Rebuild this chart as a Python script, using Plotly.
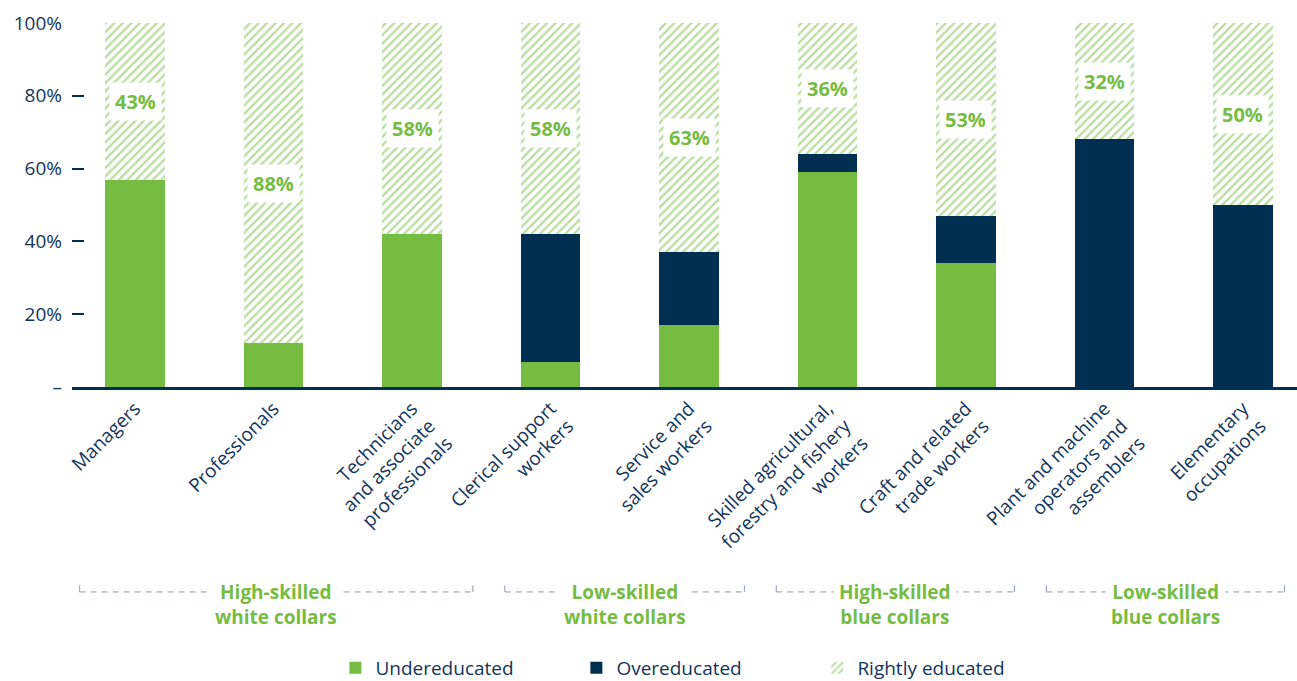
import plotly.graph_objects as go

COLORS = {
    "green": "#76bc43",
    "navy": "#002f52",
    "text": "#12355b",
    "dash": "#8c9bb0",
    "white": "#ffffff",
}
FONT = "Open Sans, sans-serif"

categories = [
    "Managers",
    "Professionals",
    "Technicians<br>and associate<br>professionals",
    "Clerical support<br>workers",
    "Service and<br>sales workers",
    "Skilled agricultural,<br>forestry and fishery<br>workers",
    "Craft and related<br>trade workers",
    "Plant and machine<br>operators and<br>assemblers",
    "Elementary<br>occupations",
]
undereducated = [57, 12, 42, 7, 17, 59, 34, 0, 0]
overeducated = [0, 0, 0, 35, 20, 5, 13, 68, 50]
rightly = [43, 88, 58, 58, 63, 36, 53, 32, 50]

group_labels = ["High-skilled<br>white collars", "Low-skilled<br>white collars",
                "High-skilled<br>blue collars", "Low-skilled<br>blue collars"]
group_first = [0, 3, 5, 7]
group_last = [2, 4, 6, 8]

y_ticks = [0, 20, 40, 60, 80, 100]
y_ticktext = ["–", "20%", "40%", "60%", "80%", "100%"]

x = list(range(len(categories)))
X_RANGE = [-0.455, 8.39]
# how far each bracket reaches past its first / last bar (in category units)
BRACKET_PAD_L = [0.40, 0.33, 0.37, 0.42]
BRACKET_PAD_R = [0.44, 0.40, 0.35, 0.30]

fig = go.Figure()
fig.add_trace(go.Bar(
    x=x, y=undereducated, name="Undereducated",
    marker=dict(color=COLORS["green"], line=dict(width=0)),
    width=0.43,
))
fig.add_trace(go.Bar(
    x=x, y=overeducated, name="Overeducated",
    marker=dict(color=COLORS["navy"], line=dict(width=0)),
    width=0.43,
))
fig.add_trace(go.Bar(
    x=x, y=rightly, name="Rightly educated",
    marker=dict(
        color=COLORS["white"], line=dict(width=0),
        pattern=dict(shape="/", fgcolor=COLORS["green"], bgcolor=COLORS["white"],
                     size=6, solidity=0.4),
    ),
    width=0.43,
))

# percentage labels in the hatched part
for i, r in enumerate(rightly):
    base = undereducated[i] + overeducated[i]
    fig.add_annotation(
        x=i, y=base + r / 2, text=f"<b>{r}%</b>", showarrow=False,
        font=dict(family=FONT, size=20, color=COLORS["green"]),
        bgcolor=COLORS["white"], borderpad=5,
    )


def px_x(v):
    return (v - X_RANGE[0]) / (X_RANGE[1] - X_RANGE[0])


# group brackets under the category labels
line_y = -0.563
tick_y = -0.545
for k, label in enumerate(group_labels):
    x0 = px_x(group_first[k] - BRACKET_PAD_L[k])
    x1 = px_x(group_last[k] + BRACKET_PAD_R[k])
    fig.add_shape(type="line", xref="paper", yref="paper", x0=x0, x1=x1, y0=line_y, y1=line_y,
                  line=dict(color=COLORS["dash"], width=1, dash="6px,5px"))
    for xe in (x0, x1):
        fig.add_shape(type="line", xref="paper", yref="paper", x0=xe, x1=xe, y0=line_y, y1=tick_y,
                      line=dict(color=COLORS["dash"], width=1))
    fig.add_annotation(
        xref="paper", yref="paper", x=(x0 + x1) / 2, y=-0.597, text=f"<b>{label}</b>",
        showarrow=False, xanchor="center", yanchor="middle",
        font=dict(family=FONT, size=19, color=COLORS["green"]),
        bgcolor=COLORS["white"], borderpad=5,
    )

fig.update_layout(
    width=1297,
    height=681,
    barmode="stack",
    paper_bgcolor="white",
    plot_bgcolor="white",
    font=dict(family=FONT, color=COLORS["text"], size=19),
    margin=dict(l=72, r=0, t=23, b=294, autoexpand=False),
    showlegend=True,
    legend=dict(
        orientation="h", x=0.215, xanchor="left", y=-0.772, yanchor="middle",
        font=dict(size=19, color=COLORS["text"]), traceorder="normal",
        entrywidth=196, entrywidthmode="pixels",
    ),
    xaxis=dict(
        range=X_RANGE, tickvals=x, ticktext=categories, tickangle=-45,
        showline=True, linecolor=COLORS["navy"], linewidth=3,
        showgrid=False, zeroline=False, ticks="", automargin=False,
        tickfont=dict(family=FONT, size=19, color=COLORS["text"]),
    ),
    yaxis=dict(
        range=[0, 100], tickvals=y_ticks, ticktext=y_ticktext,
        showgrid=False, zeroline=False, showline=False, automargin=False,
        ticks="inside", ticklen=12, tickwidth=1.5, tickcolor=COLORS["navy"],
        ticklabelstandoff=9,
        tickfont=dict(family=FONT, size=19, color=COLORS["text"]),
    ),
)

fig.write_html("out.html", config={"displayModeBar": False},
               post_script="document.body.style.margin='0';")
